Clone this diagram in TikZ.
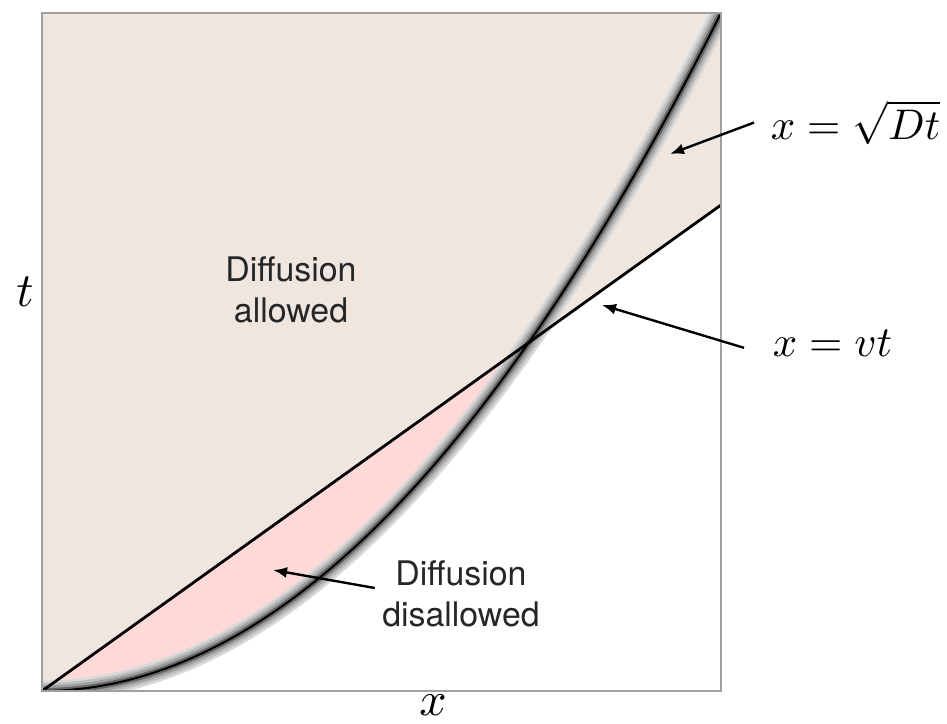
\documentclass[tikz,border=0pt]{standalone}
\usepackage{fontspec}
\setsansfont{TeX Gyre Heros}
\usetikzlibrary{arrows.meta}
\definecolor{allowbg}{HTML}{EFE6E0}
\definecolor{forbidbg}{HTML}{FFD8D8}
\definecolor{framegray}{HTML}{A0A0A0}

\begin{document}
\begin{tikzpicture}[
  x=1bp, y=1bp,
  arr/.style={-{Latex[length=14bp, width=11bp]}, line width=2.4bp},
  region/.style={font=\fontsize{34}{41}\selectfont\sffamily, align=center, text=black!85},
  eqn/.style={font=\fontsize{10}{12}\selectfont, inner sep=0pt, anchor=base west, scale=4.3, transform shape},
  axis/.style={font=\fontsize{10}{12}\selectfont, inner sep=0pt, scale=4.8, transform shape},
  halo/.style={line width=#1, line join=round}
]
\useasboundingbox (0,0) rectangle (947,724);
% shaded regions
\fill[allowbg] (42,33) -- (721,519) -- (721,711) -- (42,711) -- cycle;
\fill[forbidbg] plot[domain=0:0.7168, samples=60] ({42+679*\x},{33+678*\x*\x}) -- cycle;
% blurred diffusion front
\begin{scope}
  \clip (42,33) rectangle (721,711);
  \draw[halo=21bp, black!15] plot[domain=0:1.02, samples=90] ({42+679*\x},{33+678*\x*\x});
  \draw[halo=16bp, black!25] plot[domain=0:1.02, samples=90] ({42+679*\x},{33+678*\x*\x});
  \draw[halo=11bp, black!38] plot[domain=0:1.02, samples=90] ({42+679*\x},{33+678*\x*\x});
  \draw[halo=6bp, black!60] plot[domain=0:1.02, samples=90] ({42+679*\x},{33+678*\x*\x});
  \draw[halo=2bp, black] plot[domain=0:1.02, samples=90] ({42+679*\x},{33+678*\x*\x});
\end{scope}
\coordinate (orig) at (42,33);
\coordinate (vend) at (721,519);
\draw[line width=2.8bp] (orig) -- (vend);
\draw[framegray, line width=1.4bp] (42,33) rectangle (721,711);
% labels
\node[axis] (tlab) at (25,432) {$t$};
\node[axis] (xlab) at (433,19) {$x$};
\node[region] (allow) at (291,434) {Diffusion\\allowed};
\node[region] (forbid) at (461,130) {Diffusion\\disallowed};
\node[eqn] (eqD) at (770,584) {$x=\sqrt{Dt}$};
\node[eqn] (eqV) at (772,367) {$x=vt$};
% arrows
\coordinate (tipD) at (670,570);
\coordinate (tipV) at (602,419);
\coordinate (tipF) at (273,154);
\draw[arr] ([xshift=-16bp]eqD.west) -- (tipD);
\draw[arr] ([xshift=-28bp,yshift=-4bp]eqV.west) -- (tipV);
\draw[arr] ([xshift=-4bp,yshift=6bp]forbid.west) -- (tipF);
\end{tikzpicture}
\end{document}
